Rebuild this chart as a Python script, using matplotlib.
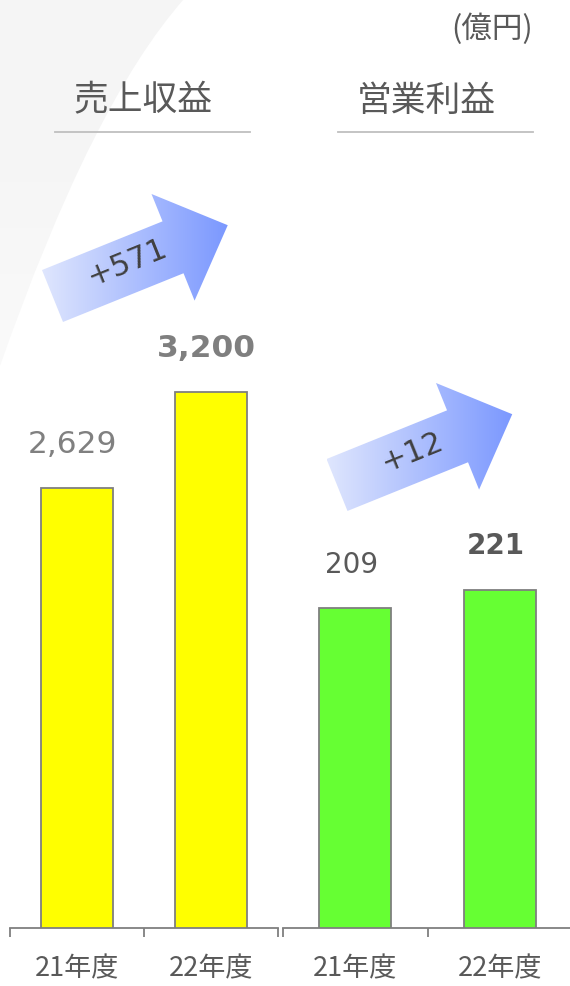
import numpy as np
import matplotlib
matplotlib.use("Agg")
import matplotlib.pyplot as plt
from matplotlib.path import Path
from matplotlib.patches import PathPatch, Polygon
from matplotlib.colors import LinearSegmentedColormap

# data (億円)
years = ["21年度", "22年度"]
revenue = [2629, 3200]
op_income = [209, 221]
revenue_delta = "+571"
op_income_delta = "+12"

JP = ["Noto Sans CJK JP", "DejaVu Sans"]
NUM = ["DejaVu Sans", "Noto Sans CJK JP"]
GRAY = "#595959"
EDGE = "#7f7f7f"

W, H = 570, 987
fig = plt.figure(figsize=(W / 100, H / 100), dpi=100)

# pixel-space layers: one behind the charts, one on top
back = fig.add_axes([0, 0, 1, 1], zorder=-5)
back.set_xlim(0, W)
back.set_ylim(H, 0)
back.axis("off")

front = fig.add_axes([0, 0, 1, 1], zorder=10)
front.set_xlim(0, W)
front.set_ylim(H, 0)
front.axis("off")
front.patch.set_alpha(0)

# soft gray swoosh in the upper left corner
swoosh = Path([(0, 0), (184, 0), (92, 104), (0, 367), (0, 0)],
              [Path.MOVETO, Path.LINETO, Path.CURVE3, Path.CURVE3, Path.CLOSEPOLY])
sw_patch = PathPatch(swoosh, facecolor="none", edgecolor="none")
back.add_patch(sw_patch)
grad = np.linspace(0, 1, 256).reshape(-1, 1)
sw_cmap = LinearSegmentedColormap.from_list("sw", ["#f5f5f5", "#f6f6f6", "#fafafa"])
img = back.imshow(grad, cmap=sw_cmap, extent=[0, 184, 367, 0], aspect="auto")
img.set_clip_path(sw_patch)


def bar_panel(left_px, width_px, values, ymax, color, width, label_size, label_styles):
    top_px = 150
    bottom_px = 929
    ax = fig.add_axes([left_px / W, (H - bottom_px) / H, width_px / W, (bottom_px - top_px) / H])
    ax.patch.set_alpha(0)
    x = np.arange(len(values))
    ax.bar(x, values, width=width, color=color, edgecolor=EDGE, linewidth=1.3, zorder=3)
    ax.set_xlim(-0.5, len(values) - 0.5)
    ax.set_ylim(0, ymax)
    for s in ["top", "left", "right"]:
        ax.spines[s].set_visible(False)
    ax.spines["bottom"].set_color(EDGE)
    ax.spines["bottom"].set_linewidth(1.3)
    ax.set_yticks([])
    ax.set_xticks(x)
    ax.set_xticklabels(years, fontsize=19.5, color=GRAY, family=JP)
    ax.tick_params(axis="x", which="major", length=0, pad=19)
    ax.set_xticks(np.arange(len(values) + 1) - 0.5, minor=True)
    ax.tick_params(axis="x", which="minor", length=6.5, width=1.3, color=EDGE, direction="out")
    for xi, v, (fmt, weight, col) in zip(x, values, label_styles):
        ax.annotate(fmt.format(v), (xi, v), xytext=(-3, 32), textcoords="offset points",
                    ha="center", va="center", fontsize=label_size, fontweight=weight,
                    color=col, family=NUM)
    return ax


bar_panel(10, 268, revenue, 4652, "#ffff00", 0.53, 22.5,
          [("{:,}", "normal", "#808080"), ("{:,}", "bold", "#7f7f7f")])
bar_panel(283, 289, op_income, 509, "#66ff33", 0.5, 20,
          [("{:,}", "normal", GRAY), ("{:,}", "bold", GRAY)])

# panel headings with rules underneath
for cx, title in [(143, "売上収益"), (426, "営業利益")]:
    front.text(cx, 101, title, ha="center", va="center", fontsize=25, color=GRAY, family=JP)
    front.plot([cx - 88, cx + 107], [133, 133], color="#bfbfbf", lw=1.3)
front.text(492, 29, "(億円)", ha="center", va="center", fontsize=22, color=GRAY, family=JP)

# gradient growth arrows
arrow_cmap = LinearSegmentedColormap.from_list("arr", ["#dfe6fd", "#7b98ff"])


def growth_arrow(tail, label, text_xy):
    ang = np.deg2rad(22)
    length, shaft_w, head_w, head_l = 189, 56, 115, 59
    local = np.array([
        (0, -shaft_w / 2), (length - head_l, -shaft_w / 2), (length - head_l, -head_w / 2),
        (length, 0), (length - head_l, head_w / 2), (length - head_l, shaft_w / 2),
        (0, shaft_w / 2),
    ])
    rot = np.array([[np.cos(ang), np.sin(ang)], [-np.sin(ang), np.cos(ang)]])
    pts = local @ rot.T + np.array(tail)
    poly = Polygon(pts, closed=True, facecolor="none", edgecolor="none")
    front.add_patch(poly)
    x0, x1 = pts[:, 0].min(), pts[:, 0].max()
    y0, y1 = pts[:, 1].min(), pts[:, 1].max()
    g = np.linspace(0, 1, 256).reshape(1, -1)
    im = front.imshow(g, cmap=arrow_cmap, extent=[x0, x1, y1, y0], aspect="auto", zorder=1)
    im.set_clip_path(poly)
    front.text(text_xy[0], text_xy[1], label, rotation=22, rotation_mode="anchor",
               ha="center", va="center", fontsize=22, color="#404040", family=NUM, zorder=2)


growth_arrow((52.5, 297), revenue_delta, (127, 262))
growth_arrow((337, 486), op_income_delta, (412, 452))

front.set_xlim(0, W)
front.set_ylim(H, 0)

fig.savefig("out.png", dpi=100, facecolor="white")
